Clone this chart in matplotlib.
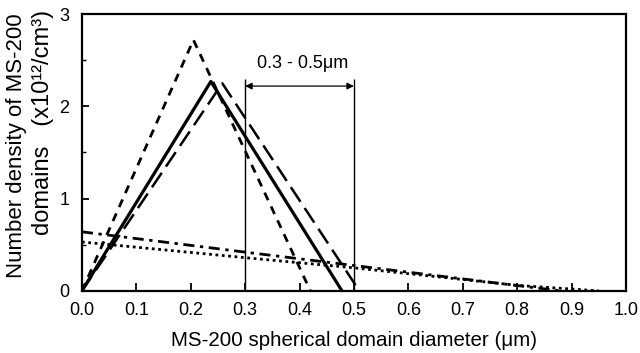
import matplotlib.pyplot as plt
from matplotlib.ticker import MultipleLocator

plt.rcParams['font.family'] = ['Liberation Sans', 'DejaVu Sans']

# size distributions (diameter um, density x10^12/cm^3)
short_dash_x = [0.0, 0.205, 0.42]
short_dash_y = [0.0, 2.72, 0.0]
solid_x = [0.0, 0.237, 0.478]
solid_y = [0.0, 2.27, 0.0]
long_dash_x = [0.0, 0.258, 0.51]
long_dash_y = [0.0, 2.25, 0.0]
dashdot_x = [0.0, 0.3, 0.7, 0.88]
dashdot_y = [0.64, 0.42, 0.13, 0.0]
dotted_x = [0.0, 0.3, 0.5, 0.8, 0.95]
dotted_y = [0.53, 0.36, 0.25, 0.06, 0.0]

range_lo, range_hi = 0.3, 0.5
range_top = 2.3
arrow_y = 2.22
range_label = "0.3 - 0.5\u03bcm"

fig = plt.figure(figsize=(6.4, 3.53), dpi=100)
ax = fig.add_axes([0.128, 0.176, 0.85, 0.784])

ax.plot(short_dash_x, short_dash_y, color='black', lw=2.0, ls=(0, (3, 2.5)))
ax.plot(solid_x, solid_y, color='black', lw=2.3, ls='-')
ax.plot(long_dash_x, long_dash_y, color='black', lw=1.8, ls=(0, (7, 3)))
ax.plot(dashdot_x, dashdot_y, color='black', lw=2.0, ls=(0, (4, 2, 1.2, 2)))
ax.plot(dotted_x, dotted_y, color='black', lw=2.0, ls=(0, (1.0, 1.3)))

# 0.3 - 0.5 um marker
ax.vlines([range_lo, range_hi], 0, range_top, color='black', lw=1.0)
ax.annotate('', xy=(range_lo, arrow_y), xytext=(range_hi, arrow_y),
            arrowprops=dict(arrowstyle='<|-|>', color='black', lw=0.9,
                            mutation_scale=10, shrinkA=0, shrinkB=0))
ax.text(0.405, 2.47, range_label, ha='center', va='center', fontsize=13)

ax.set_xlim(0, 1.0)
ax.set_ylim(0, 3)
ax.xaxis.set_major_locator(MultipleLocator(0.1))
ax.yaxis.set_major_locator(MultipleLocator(1))
ax.yaxis.set_minor_locator(MultipleLocator(0.5))
ax.xaxis.set_major_formatter(plt.FormatStrFormatter('%.1f'))
ax.tick_params(axis='x', direction='in', length=6, width=1.3, labelsize=13, pad=8)
ax.tick_params(axis='y', which='major', direction='in', length=5, width=1.3,
               labelsize=13, pad=9)
ax.tick_params(axis='y', which='minor', direction='in', length=3, width=1.0)
for s in ax.spines.values():
    s.set_linewidth(1.6)

ax.set_xlabel("MS-200 spherical domain diameter (\u03bcm)", fontsize=14.8, labelpad=9)
# y label: two lines placed separately
fig.text(0.026, 0.586, "Number density of MS-200", rotation=90,
         ha='center', va='center', fontsize=16)
fig.text(0.067, 0.652, "domains   (x10\u00b9\u00b2/cm\u00b3)", rotation=90,
         ha='center', va='center', fontsize=17)

fig.savefig("out.png", dpi=100)
